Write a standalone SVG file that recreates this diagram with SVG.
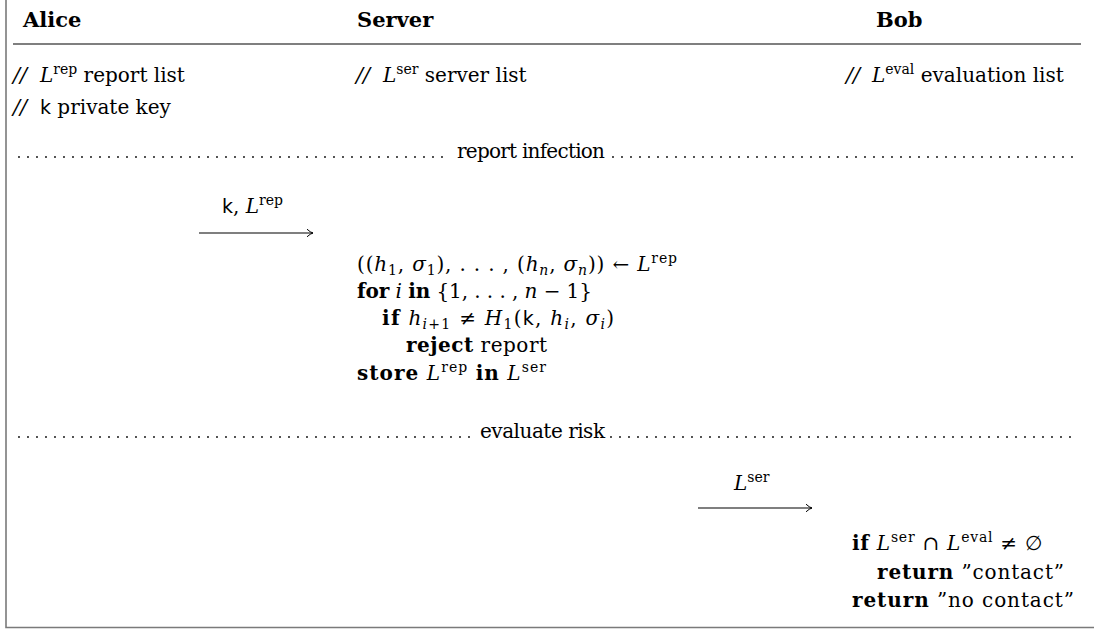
<svg xmlns="http://www.w3.org/2000/svg" width="1094" height="630" viewBox="0 0 1094 630">
<defs>
<style>
text{font-family:"DejaVu Serif","Liberation Serif",serif;font-size:20px;fill:#000}
.b{font-weight:bold}
.i{font-style:italic}
.s{font-family:"DejaVu Sans","Liberation Sans",sans-serif;font-size:19px}
.sm{font-size:14px}
.hdr{font-weight:bold;font-size:21px}
.cm{font-style:italic;font-size:21px}
.dots{stroke:#000;stroke-width:1.8;stroke-linecap:round;stroke-dasharray:0 9;fill:none}
.arr{stroke:#000;stroke-width:1.1;fill:none}
.frame{stroke:#7a7a7a;stroke-width:1.6;fill:none}
</style>
<marker id="ah" markerWidth="10" markerHeight="10" refX="0" refY="0" viewBox="-7 -5 8 10" orient="auto" markerUnits="userSpaceOnUse">
<path d="M -6 -3.8 Q -2.5 -0.6 0 0 Q -2.5 0.6 -6 3.8" stroke="#000" stroke-width="1" fill="none"/>
</marker>
</defs>
<rect width="1094" height="630" fill="#fff"/>
<g id="frame">
<path class="frame" d="M 6 0 V 627.5 H 1094"/>
<line x1="13" y1="44" x2="1081" y2="44" stroke="#000" stroke-width="1.2"/>
</g>
<g id="alice">
<text class="hdr" x="23" y="27">Alice</text>
<text class="cm" x="13" y="82">//</text>
<text x="40" y="82"><tspan class="i">L</tspan><tspan class="sm" dy="-8">rep</tspan><tspan dy="8"> report list</tspan></text>
<text class="cm" x="13" y="114">//</text>
<text x="40" y="114"><tspan class="s">k</tspan> private key</text>
</g>
<g id="server">
<text class="hdr" x="357" y="27">Server</text>
<text class="cm" x="356" y="82">//</text>
<text x="383" y="82"><tspan class="i">L</tspan><tspan class="sm" dy="-8">ser</tspan><tspan dy="8"> server list</tspan></text>
</g>
<g id="bob">
<text class="hdr" x="876" y="27">Bob</text>
<text class="cm" x="846" y="82">//</text>
<text x="872" y="82"><tspan class="i">L</tspan><tspan class="sm" dy="-8">eval</tspan><tspan dy="8"> evaluation list</tspan></text>
</g>
<g id="phase-report">
<line class="dots" x1="19" y1="157" x2="451" y2="157"/>
<text x="457" y="158" textLength="148">report infection</text>
<line class="dots" x1="613" y1="157" x2="1078" y2="157"/>
</g>
<g id="server-check">
<text x="357" y="271" textLength="320">((<tspan class="i">h</tspan><tspan class="sm" dy="4">1</tspan><tspan dy="-4">, </tspan><tspan class="i">σ</tspan><tspan class="sm" dy="4">1</tspan><tspan dy="-4">), . . . , (</tspan><tspan class="i">h</tspan><tspan class="sm i" dy="4">n</tspan><tspan dy="-4">, </tspan><tspan class="i">σ</tspan><tspan class="sm i" dy="4">n</tspan><tspan dy="-4">)) ← </tspan><tspan class="i">L</tspan><tspan class="sm" dy="-8">rep</tspan></text>
<text x="357" y="298" textLength="235"><tspan class="b">for</tspan> <tspan class="i">i</tspan> <tspan class="b">in</tspan> {1, . . . , <tspan class="i">n</tspan> − 1}</text>
<text x="382" y="325" textLength="232"><tspan class="b">if</tspan> <tspan class="i">h</tspan><tspan class="sm" dy="4"><tspan class="i">i</tspan>+1</tspan><tspan dy="-4"> ≠ </tspan><tspan class="i">H</tspan><tspan class="sm" dy="4">1</tspan><tspan dy="-4">(</tspan><tspan class="s">k</tspan>, <tspan class="i">h</tspan><tspan class="sm i" dy="4">i</tspan><tspan dy="-4">, </tspan><tspan class="i">σ</tspan><tspan class="sm i" dy="4">i</tspan><tspan dy="-4">)</tspan></text>
<text x="406" y="352" textLength="141"><tspan class="b">reject</tspan> report</text>
<text x="357" y="380" textLength="189"><tspan class="b">store</tspan> <tspan class="i">L</tspan><tspan class="sm" dy="-8">rep</tspan><tspan dy="8"> </tspan><tspan class="b">in</tspan> <tspan class="i">L</tspan><tspan class="sm" dy="-8">ser</tspan></text>
</g>
<g id="phase-evaluate">
<line class="dots" x1="19" y1="437" x2="475" y2="437"/>
<text x="480" y="438" textLength="125">evaluate risk</text>
<line class="dots" x1="611" y1="437" x2="1078" y2="437"/>
</g>
<g id="bob-eval">
<text x="852" y="550" textLength="190"><tspan class="b">if</tspan> <tspan class="i">L</tspan><tspan class="sm" dy="-8">ser</tspan><tspan dy="8"> ∩ </tspan><tspan class="i">L</tspan><tspan class="sm" dy="-8">eval</tspan><tspan dy="8"> ≠ ∅</tspan></text>
<text x="877" y="579" textLength="187"><tspan class="b">return</tspan> ”contact”</text>
<text x="852" y="607" textLength="222"><tspan class="b">return</tspan> ”no contact”</text>
</g>
<g id="connectors">
<line class="arr" x1="199" y1="233" x2="313" y2="233" marker-end="url(#ah)"/>
<text x="222" y="213"><tspan class="s">k</tspan>, <tspan class="i">L</tspan><tspan class="sm" dy="-8">rep</tspan></text>
<line class="arr" x1="698" y1="508" x2="812" y2="508" marker-end="url(#ah)"/>
<text x="734" y="490"><tspan class="i">L</tspan><tspan class="sm" dy="-8">ser</tspan></text>
</g>
</svg>
